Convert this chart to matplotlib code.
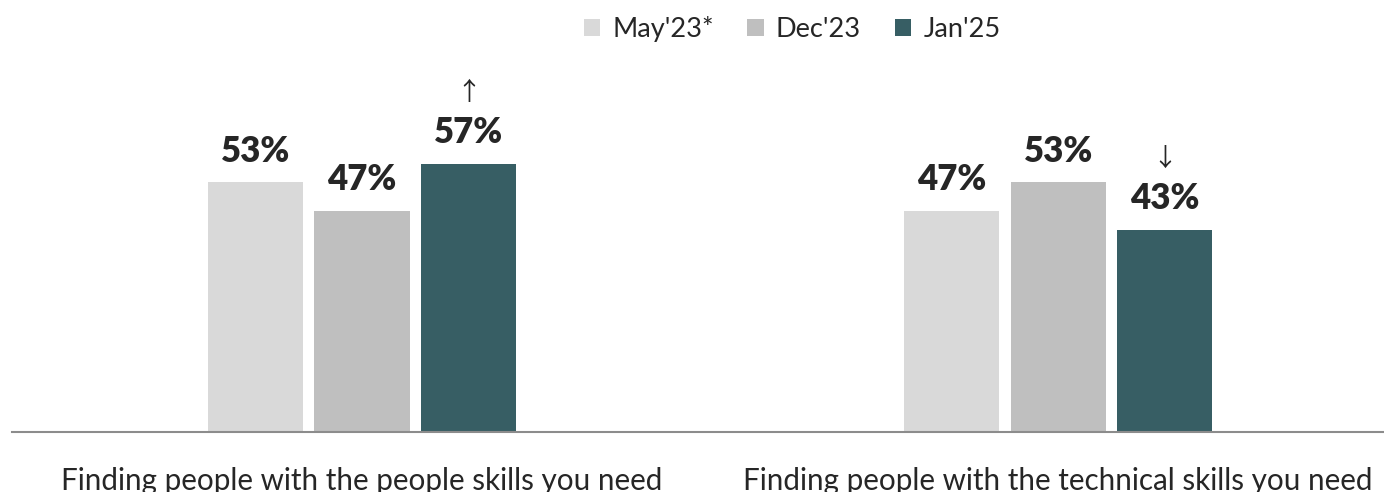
import matplotlib.pyplot as plt
from matplotlib.patches import Patch

categories = ['Finding people with the people skills you need',
              'Finding people with the technical skills you need']
series = ["May'23*", "Dec'23", "Jan'25"]
may23 = [53, 47]
dec23 = [47, 53]
jan25 = [57, 43]
trend = ['↑', '↓']

colors = ['#D9D9D9', '#BFBFBF', '#375E64']
text_color = '#262626'

plt.rcParams['font.family'] = ['Lato', 'DejaVu Sans']

fig = plt.figure(figsize=(13.84, 4.92), dpi=100)
ax = fig.add_axes([12 / 1384, 60 / 492, 1372 / 1384, 372 / 492])

width = 0.137
offsets = [-0.153, 0, 0.153]
for vals, off, col in zip([may23, dec23, jan25], offsets, colors):
    xs = [i + off for i in range(len(categories))]
    bars = ax.bar(xs, vals, width=width, color=col, zorder=2)
    for b, v in zip(bars, vals):
        ax.annotate(f'{v}%', (b.get_x() + b.get_width() / 2, v),
                    xytext=(0, 15), textcoords='offset points',
                    ha='center', va='baseline', fontsize=25,
                    fontweight='heavy', color=text_color)

# arrows above the latest values
for i, (v, arr) in enumerate(zip(jan25, trend)):
    ax.annotate(arr, (i + offsets[2], v), xytext=(0, 46),
                textcoords='offset points', ha='center', va='baseline',
                fontsize=18, color=text_color,
                family=['Noto Sans CJK SC', 'DejaVu Sans'])

ax.set_xlim(-0.503, 1.468)
ax.set_ylim(0, 79)
ax.set_xticks(range(len(categories)))
ax.set_xticklabels(categories, fontsize=21.3, color=text_color)
ax.tick_params(axis='x', length=0, pad=25)
ax.set_yticks([])
for s in ['top', 'right', 'left']:
    ax.spines[s].set_visible(False)
ax.spines['bottom'].set_color('#8C8C8C')
ax.spines['bottom'].set_linewidth(1.5)

handles = [Patch(facecolor=c, label=s) for c, s in zip(colors, series)]
fig.legend(handles=handles, loc='center', bbox_to_anchor=(792 / 1384, 1 - 29 / 492),
           ncol=3, frameon=False, fontsize=19.5, handlelength=0.6, handleheight=0.6,
           handletextpad=0.45, columnspacing=1.25, labelcolor=text_color)

fig.savefig('out.png', dpi=100)
